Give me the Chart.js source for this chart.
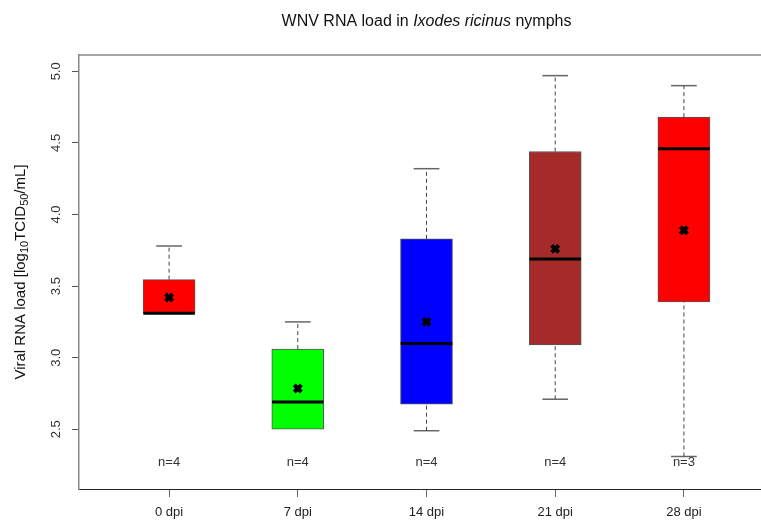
<!DOCTYPE html>
<html>
<head>
<meta charset="utf-8">
<title>WNV RNA load in Ixodes ricinus nymphs</title>
<script src="https://cdn.jsdelivr.net/npm/chart.js@4/dist/chart.umd.min.js"></script>
<style>
  body { margin: 0; background: #fff; }
  canvas { display: block; }
</style>
</head>
<body>
<canvas id="box-chart" width="761" height="521"></canvas>
<script>
// five number summaries per time point
var categories = ["0 dpi", "7 dpi", "14 dpi", "21 dpi", "28 dpi"];
var mins    = [3.31, 2.50, 2.49, 2.71, 2.31];
var q1s     = [3.31, 2.50, 2.675, 3.09, 3.39];
var medians = [3.31, 2.69, 3.10, 3.69, 4.46];
var q3s     = [3.545, 3.06, 3.83, 4.44, 4.68];
var maxs    = [3.78, 3.25, 4.32, 4.97, 4.90];
var means   = [3.42, 2.785, 3.25, 3.76, 3.89];
var counts  = [4, 4, 4, 4, 3];
var boxColors = ["#ff0000", "#00ff00", "#0000ff", "#a52a2a", "#ff0000"];
var yTicks = [2.5, 3.0, 3.5, 4.0, 4.5, 5.0];

var FONT = "'Liberation Sans', Arial, sans-serif";
var HALF_BOX = 0.2, HALF_CAP = 0.1;

var datasets = [];

// boxes as floating bars
datasets.push({
  type: 'bar',
  data: categories.map(function (c, i) { return { x: i + 1, y: [q1s[i], q3s[i]] }; }),
  backgroundColor: boxColors,
  borderColor: '#555',
  borderWidth: 1,
  borderSkipped: false,
  barThickness: 52,
  order: 3
});

// whiskers, caps, medians
function seg(points, opts) {
  var d = {
    type: 'line',
    data: points,
    borderColor: '#444',
    borderWidth: 1,
    pointRadius: 0,
    fill: false,
    order: 2
  };
  for (var k in opts) d[k] = opts[k];
  datasets.push(d);
}

categories.forEach(function (c, i) {
  var x = i + 1;
  seg([{ x: x, y: q3s[i] }, { x: x, y: maxs[i] }], { borderDash: [4, 3] });
  if (mins[i] < q1s[i]) {
    seg([{ x: x, y: mins[i] }, { x: x, y: q1s[i] }], { borderDash: [4, 3] });
    seg([{ x: x - HALF_CAP, y: mins[i] }, { x: x + HALF_CAP, y: mins[i] }], { borderColor: '#666', borderWidth: 1.5 });
  }
  seg([{ x: x - HALF_CAP, y: maxs[i] }, { x: x + HALF_CAP, y: maxs[i] }], { borderColor: '#666', borderWidth: 1.5 });
  seg([{ x: x - HALF_BOX, y: medians[i] }, { x: x + HALF_BOX, y: medians[i] }], { borderColor: '#000', borderWidth: 3 });
});

// means
datasets.push({
  type: 'line',
  data: means.map(function (m, i) { return { x: i + 1, y: m }; }),
  showLine: false,
  pointStyle: 'crossRot',
  pointRadius: 5,
  borderColor: '#000',
  borderWidth: 4,
  order: 1
});

// text that Chart.js can't lay out the R way (rotated ticks, subscripts, italic)
var decorations = {
  id: 'decorations',
  afterDraw: function (chart) {
    var ctx = chart.ctx, area = chart.chartArea;
    var xs = chart.scales.x, ys = chart.scales.y;
    ctx.save();

    // top frame line
    ctx.strokeStyle = '#888';
    ctx.lineWidth = 1.5;
    ctx.beginPath();
    ctx.moveTo(area.left, area.top);
    ctx.lineTo(chart.width, area.top);
    ctx.stroke();

    // title
    var parts = [
      { t: 'WNV RNA load in ', f: '16px ' + FONT },
      { t: 'Ixodes ricinus', f: 'italic 16px ' + FONT },
      { t: ' nymphs', f: '16px ' + FONT }
    ];
    drawParts(ctx, parts, xs.getPixelForValue(3), 22, '#111');

    // y tick labels, parallel to the axis
    ctx.fillStyle = '#333';
    ctx.font = '13px ' + FONT;
    ctx.textAlign = 'center';
    ctx.textBaseline = 'middle';
    yTicks.forEach(function (v) {
      ctx.save();
      ctx.translate(area.left - 23, ys.getPixelForValue(v));
      ctx.rotate(-Math.PI / 2);
      ctx.fillText(v.toFixed(1), 0, 0);
      ctx.restore();
    });

    // y axis title with subscripts
    ctx.save();
    ctx.translate(21, (area.top + area.bottom) / 2);
    ctx.rotate(-Math.PI / 2);
    drawParts(ctx, [
      { t: 'Viral RNA load [log', f: '15px ' + FONT },
      { t: '10', f: '11px ' + FONT, dy: 4 },
      { t: 'TCID', f: '15px ' + FONT },
      { t: '50', f: '11px ' + FONT, dy: 4 },
      { t: '/mL]', f: '15px ' + FONT }
    ], 0, 0, '#111');
    ctx.restore();

    // sample sizes
    ctx.fillStyle = '#333';
    ctx.font = '13px ' + FONT;
    ctx.textAlign = 'center';
    ctx.textBaseline = 'middle';
    counts.forEach(function (n, i) {
      ctx.fillText('n=' + n, xs.getPixelForValue(i + 1), area.bottom - 27);
    });
    ctx.restore();
  }
};

function drawParts(ctx, parts, cx, cy, color) {
  var total = 0;
  parts.forEach(function (p) { ctx.font = p.f; p.w = ctx.measureText(p.t).width; total += p.w; });
  var x = cx - total / 2;
  ctx.fillStyle = color;
  ctx.textAlign = 'left';
  ctx.textBaseline = 'middle';
  parts.forEach(function (p) {
    ctx.font = p.f;
    ctx.fillText(p.t, x, cy + (p.dy || 0));
    x += p.w;
  });
}

var chart = new Chart(document.getElementById('box-chart'), {
  type: 'bar',
  data: { datasets: datasets },
  options: {
    responsive: false,
    animation: false,
    events: [],
    layout: { autoPadding: false, padding: { top: 55, right: 0, left: 0, bottom: 0 } },
    plugins: {
      legend: { display: false },
      tooltip: { enabled: false },
      title: { display: false }
    },
    scales: {
      x: {
        type: 'linear',
        offset: false,
        min: 0.3,
        max: 5.599,
        afterFit: function (s) { s.height = 32; s.paddingLeft = 0; s.paddingRight = 0; },
        border: { display: true, color: '#222', width: 1 },
        grid: { offset: false, drawOnChartArea: false, drawTicks: true, tickLength: 8, color: '#666' },
        ticks: {
          stepSize: 1,
          includeBounds: false,
          autoSkip: false,
          maxRotation: 0,
          padding: 8,
          color: '#222',
          font: { family: FONT, size: 13 },
          callback: function (v) { return categories[v - 1] || ''; }
        }
      },
      y: {
        min: 2.083,
        max: 5.114,
        afterFit: function (s) { s.width = 79; s.paddingTop = 0; s.paddingBottom = 0; },
        border: { display: true, color: '#888', width: 1.5 },
        grid: { drawOnChartArea: false, drawTicks: true, tickLength: 7, color: '#555' },
        ticks: {
          stepSize: 0.5,
          includeBounds: false,
          display: false
        }
      }
    }
  },
  plugins: [decorations]
});
</script>
</body>
</html>
